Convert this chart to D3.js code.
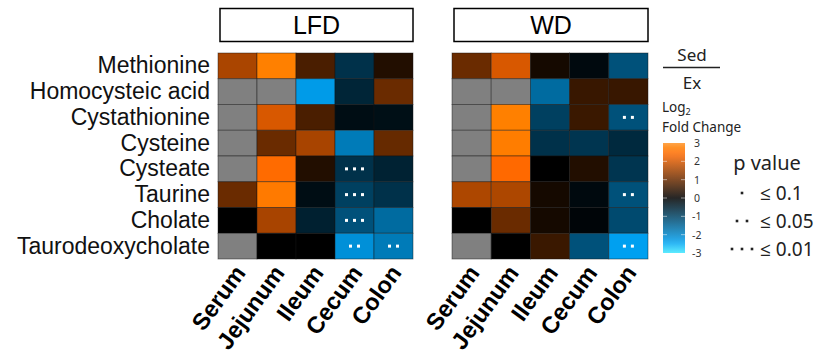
<!DOCTYPE html>
<html>
<head>
<meta charset="utf-8">
<script src="https://cdn.jsdelivr.net/npm/d3@7"></script>
<style>
  body { margin: 0; background: #fff; }
  svg { display: block; }
</style>
</head>
<body>
<div id="container"></div>
<script>
/* CONSTANTS AND GLOBALS */
const width = 819,
    height = 362;

// DATA
const metabolites = ["Methionine", "Homocysteic acid", "Cystathionine", "Cysteine",
    "Cysteate", "Taurine", "Cholate", "Taurodeoxycholate"];
const tissues = ["Serum", "Jejunum", "Ileum", "Cecum", "Colon"];
const diets = ["LFD", "WD"];

// log2 fold change (Sed / Ex), null = not measured
const lfdValues = [
    [1.6, 2.8, 0.7, -0.74, 0.32],
    [null, null, -2.32, -0.55, 1.0],
    [null, 2.03, 0.7, -0.2, -0.22],
    [null, 1.0, 1.58, -1.84, 0.96],
    [null, 2.45, 0.32, -0.74, -0.51],
    [1.0, 2.7, -0.2, -0.96, -0.74],
    [0, 1.58, -0.48, -1.22, -1.6],
    [null, 0, 0, -2.16, -1.84]
];
const wdValues = [
    [1.0, 2.03, 0.2, -0.14, -1.22],
    [null, null, -1.6, 0.53, 0.53],
    [null, 2.8, -0.96, 0.55, -1.22],
    [null, 2.75, -0.74, -0.8, -0.62],
    [null, 2.42, 0, 0.32, -0.8],
    [1.63, 1.63, 0.2, -0.14, -1.22],
    [0, 1.0, 0.2, -0.08, -1.11],
    [null, 0, 0.55, -1.22, -2.4]
];
// number of dots = significance level
const lfdDots = [
    [0, 0, 0, 0, 0],
    [0, 0, 0, 0, 0],
    [0, 0, 0, 0, 0],
    [0, 0, 0, 0, 0],
    [0, 0, 0, 3, 0],
    [0, 0, 0, 3, 0],
    [0, 0, 0, 3, 0],
    [0, 0, 0, 2, 2]
];
const wdDots = [
    [0, 0, 0, 0, 0],
    [0, 0, 0, 0, 0],
    [0, 0, 0, 0, 2],
    [0, 0, 0, 0, 0],
    [0, 0, 0, 0, 0],
    [0, 0, 0, 0, 2],
    [0, 0, 0, 0, 0],
    [0, 0, 0, 0, 2]
];
const legendTicks = [3, 2, 1, 0, -1, -2, -3];
const pLabels = ["\u2264 0.1", "\u2264 0.05", "\u2264 0.01"];

// SVG
const svg = d3.select("#container")
    .append("svg")
    .attr("width", width)
    .attr("height", height);

// COLOR SCALE
const colorScale = d3.scaleLinear()
    .domain([-3, -2.4, 0, 2.4, 2.8, 3])
    .range(["#40e8ff", "#00a0f0", "#000000", "#ff6800", "#ff8000", "#ff9428"])
    .clamp(true);

// SCALES
const y = d3.scaleBand()
    .domain(metabolites)
    .range([53, 259])
    .padding(0);

const panels = [
    { name: "LFD", values: lfdValues, dots: lfdDots, x0: 218, x1: 413 },
    { name: "WD", values: wdValues, dots: wdDots, x0: 452, x1: 648 }
];

panels.forEach(p => {
    const x = d3.scaleBand()
        .domain(tissues)
        .range([p.x0, p.x1]);

    const g = svg.append("g").attr("class", "panel");

    // HEADER BOX
    g.append("rect")
        .attr("x", p.x0 + 2)
        .attr("y", 8.5)
        .attr("width", p.x1 - p.x0 - 2)
        .attr("height", 33)
        .attr("fill", "white")
        .attr("stroke", "black")
        .attr("stroke-width", 1.5);
    g.append("text")
        .attr("x", (p.x0 + p.x1) / 2 + 1)
        .attr("y", 34)
        .attr("text-anchor", "middle")
        .attr("font-family", "Liberation Sans, Arial, sans-serif")
        .attr("font-size", 25)
        .text(p.name);

    // CELLS
    const cells = [];
    metabolites.forEach((m, i) => {
        tissues.forEach((t, j) => {
            cells.push({ m, t, v: p.values[i][j], n: p.dots[i][j] || 0 });
        });
    });

    g.selectAll("rect.cell")
        .data(cells)
        .join("rect")
        .attr("class", "cell")
        .attr("x", d => x(d.t))
        .attr("y", d => y(d.m))
        .attr("width", x.bandwidth())
        .attr("height", y.bandwidth())
        .attr("fill", d => d.v === null ? "#808080" : colorScale(d.v))
        .attr("stroke", "rgba(20,20,20,0.55)")
        .attr("stroke-width", 0.8);

    // SIGNIFICANCE DOTS
    const dots = [];
    cells.forEach(c => {
        for (let k = 0; k < c.n; k++) {
            dots.push({ c, off: (k - (c.n - 1) / 2) * 8 });
        }
    });
    g.selectAll("rect.dot")
        .data(dots)
        .join("rect")
        .attr("class", "dot")
        .attr("x", d => x(d.c.t) + x.bandwidth() / 2 + d.off - 1.5)
        .attr("y", d => y(d.c.m) + y.bandwidth() / 2 - 1.5)
        .attr("width", 3)
        .attr("height", 3)
        .attr("fill", "white");

    // COLUMN LABELS
    g.selectAll("text.tissue")
        .data(tissues)
        .join("text")
        .attr("class", "tissue")
        .attr("text-anchor", "end")
        .attr("font-family", "Liberation Sans, Arial, sans-serif")
        .attr("font-weight", "bold")
        .attr("font-size", 23.5)
        .attr("transform", d => `translate(${x(d) + x.bandwidth() / 2 + 9}, 273) rotate(-54)`)
        .text(d => d);
});

// ROW LABELS
svg.selectAll("text.metabolite")
    .data(metabolites)
    .join("text")
    .attr("class", "metabolite")
    .attr("x", 210)
    .attr("y", d => y(d) + y.bandwidth() / 2 + 7.5)
    .attr("text-anchor", "end")
    .attr("font-family", "Liberation Sans, Arial, sans-serif")
    .attr("font-size", 23)
    .attr("fill", "#111")
    .text(d => d);

// LEGEND
const legendFont = "Noto Sans, Open Sans, sans-serif";
const leg = svg.append("g").attr("class", "legend");

leg.append("text")
    .attr("x", 692).attr("y", 61)
    .attr("text-anchor", "middle")
    .attr("font-family", legendFont)
    .attr("font-size", 17)
    .attr("fill", "#222")
    .text("Sed");
leg.append("line")
    .attr("x1", 663).attr("x2", 720)
    .attr("y1", 67.5).attr("y2", 67.5)
    .attr("stroke", "#222")
    .attr("stroke-width", 1.3);
leg.append("text")
    .attr("x", 692).attr("y", 89)
    .attr("text-anchor", "middle")
    .attr("font-family", legendFont)
    .attr("font-size", 17)
    .attr("fill", "#222")
    .text("Ex");

const logText = leg.append("text")
    .attr("x", 662).attr("y", 112)
    .attr("font-family", legendFont)
    .attr("font-size", 13.5)
    .attr("fill", "#222");
logText.append("tspan").text("Log");
logText.append("tspan").attr("font-size", 9).attr("dy", 2.5).text("2");
leg.append("text")
    .attr("x", 662).attr("y", 132)
    .attr("font-family", legendFont)
    .attr("font-size", 13.5)
    .attr("fill", "#222")
    .text("Fold Change");

// COLOR BAR
const barScale = d3.scaleLinear().domain([3, -3]).range([143, 253]);
const grad = svg.append("defs").append("linearGradient")
    .attr("id", "lfcGrad")
    .attr("x1", 0).attr("x2", 0).attr("y1", 0).attr("y2", 1);
d3.range(3, -3.01, -0.25).forEach(v => {
    grad.append("stop")
        .attr("offset", (3 - v) / 6)
        .attr("stop-color", colorScale(v));
});
leg.append("rect")
    .attr("x", 663).attr("y", barScale(3))
    .attr("width", 22).attr("height", barScale(-3) - barScale(3))
    .attr("fill", "url(#lfcGrad)")
    .attr("opacity", 0.85);

leg.selectAll("line.tick")
    .data(legendTicks.slice(1, -1))
    .join("line")
    .attr("class", "tick")
    .attr("x1", 663).attr("x2", 667)
    .attr("y1", d => barScale(d)).attr("y2", d => barScale(d))
    .attr("stroke", "rgba(255,255,255,0.5)");
leg.selectAll("line.tick2")
    .data(legendTicks.slice(1, -1))
    .join("line")
    .attr("class", "tick2")
    .attr("x1", 681).attr("x2", 685)
    .attr("y1", d => barScale(d)).attr("y2", d => barScale(d))
    .attr("stroke", "rgba(255,255,255,0.5)");

leg.selectAll("text.tickLabel")
    .data(legendTicks)
    .join("text")
    .attr("class", "tickLabel")
    .attr("x", d => d < 0 ? 692 : 694)
    .attr("y", d => barScale(d) + 4)
    .attr("font-family", legendFont)
    .attr("font-size", 10.5)
    .attr("fill", "#333")
    .text(d => d);

// P VALUE LEGEND
leg.append("text")
    .attr("x", 767).attr("y", 170)
    .attr("text-anchor", "middle")
    .attr("font-family", legendFont)
    .attr("font-size", 20)
    .attr("fill", "#222")
    .text("p value");

const pY = d3.scalePoint().domain(pLabels).range([193, 249]);
leg.selectAll("text.pLabel")
    .data(pLabels)
    .join("text")
    .attr("class", "pLabel")
    .attr("x", 760)
    .attr("y", d => pY(d) + 7)
    .attr("font-family", legendFont)
    .attr("font-size", 19)
    .attr("fill", "#222")
    .text(d => d);

const pDots = [];
pLabels.forEach((lab, i) => {
    for (let k = 0; k <= i; k++) pDots.push({ lab, off: (k - i / 2) * 10 });
});
leg.selectAll("rect.pDot")
    .data(pDots)
    .join("rect")
    .attr("class", "pDot")
    .attr("x", d => 742 + d.off - 1.3)
    .attr("y", d => pY(d.lab) - 1.3)
    .attr("width", 2.6)
    .attr("height", 2.6)
    .attr("fill", "#222");
</script>
</body>
</html>
